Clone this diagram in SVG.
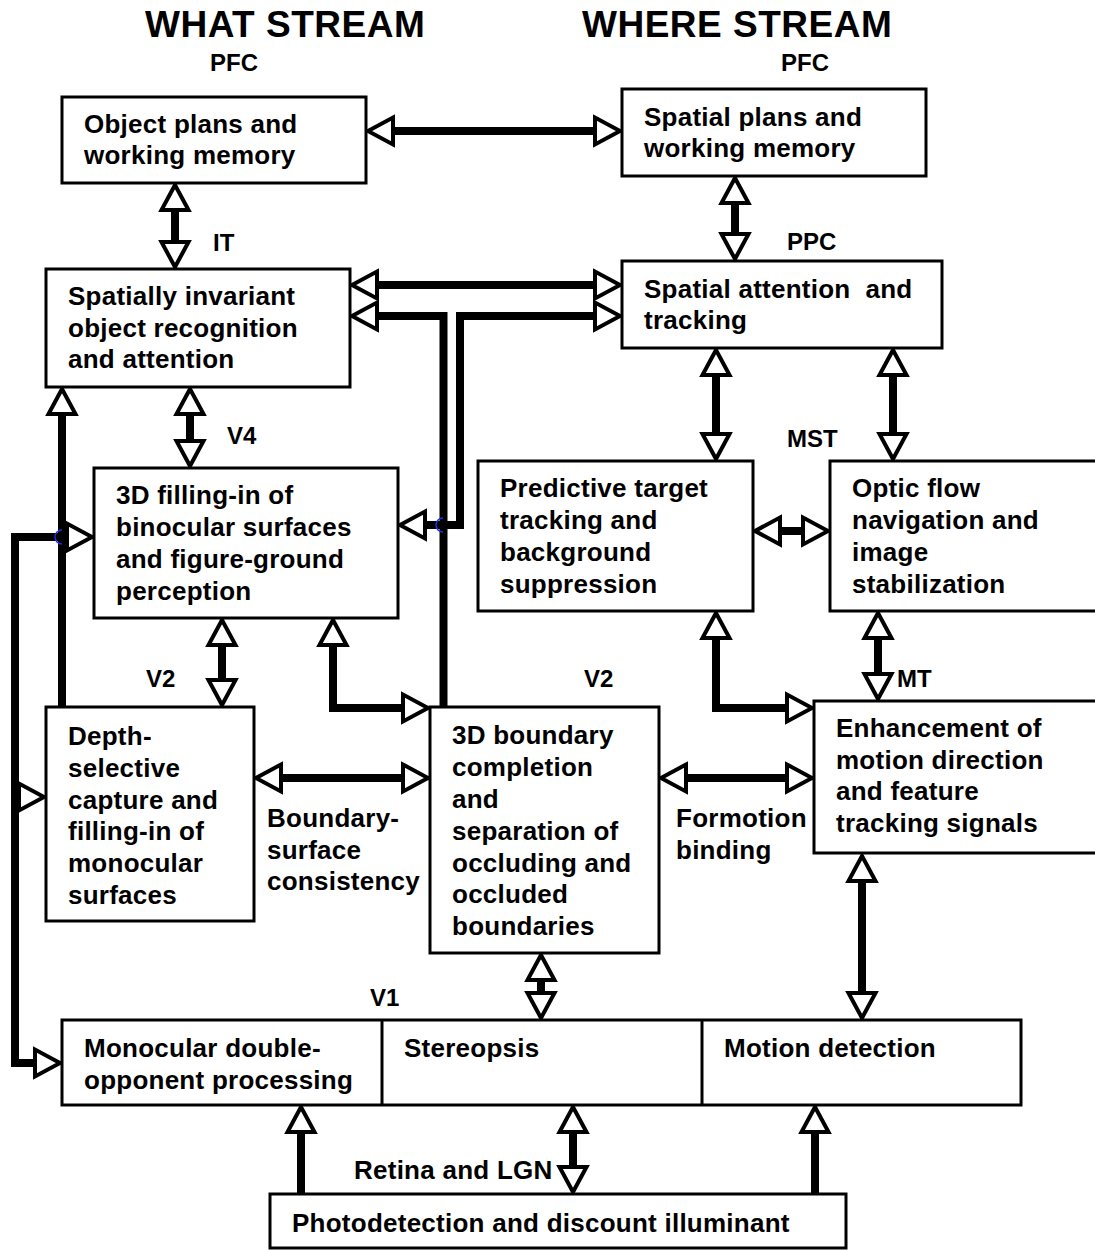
<svg xmlns="http://www.w3.org/2000/svg" xmlns:xlink="http://www.w3.org/1999/xlink" width="1095" height="1251" viewBox="0 0 1095 1251">
<style>
text{font-family:"Liberation Sans",Arial,sans-serif;font-weight:bold;fill:#000;white-space:pre}
.t{font-size:26px;letter-spacing:0.25px}
.h{font-size:37px;letter-spacing:0.5px}
.l{font-size:24px}
.box{fill:#fff;stroke:#000;stroke-width:3}
.c{fill:none;stroke:#000;stroke-width:8;stroke-linejoin:miter}
.hop{fill:none;stroke:#2030e0;stroke-width:1.5}
</style>
<defs>
<polygon id="ah" points="0,0 -25,-13.5 -25,13.5" fill="#fff" stroke="#000" stroke-width="4" stroke-linejoin="miter"/>
</defs>
<rect width="1095" height="1251" fill="#fff"/>

<g id="titles">
<text class="h" x="145" y="37">WHAT STREAM</text>
<text class="h" x="582" y="37">WHERE STREAM</text>
<text class="l" x="210" y="71">PFC</text>
<text class="l" x="781" y="71">PFC</text>
<text class="l" x="213" y="251">IT</text>
<text class="l" x="787" y="250">PPC</text>
<text class="l" x="227" y="444">V4</text>
<text class="l" x="787" y="447">MST</text>
<text class="l" x="146" y="687">V2</text>
<text class="l" x="584" y="687">V2</text>
<text class="l" x="897" y="687">MT</text>
<text class="l" x="370" y="1006">V1</text>
</g>

<g id="connectors">
<path class="c" d="M390,131 H598"/>
<use xlink:href="#ah" transform="translate(368,131) rotate(180)"/>
<use xlink:href="#ah" transform="translate(620,131)"/>
<path class="c" d="M175,207 V245"/>
<use xlink:href="#ah" transform="translate(175,185) rotate(-90)"/>
<use xlink:href="#ah" transform="translate(175,267) rotate(90)"/>
<path class="c" d="M735,200 V237"/>
<use xlink:href="#ah" transform="translate(735,178) rotate(-90)"/>
<use xlink:href="#ah" transform="translate(735,259) rotate(90)"/>
<path class="c" d="M374,285 H598"/>
<use xlink:href="#ah" transform="translate(352,285) rotate(180)"/>
<use xlink:href="#ah" transform="translate(620,285)"/>
<path class="c" d="M443.5,707 V316 H374"/>
<use xlink:href="#ah" transform="translate(352,316) rotate(180)"/>
<path class="c" d="M598,316 H460 V525 H422"/>
<use xlink:href="#ah" transform="translate(620,316)"/>
<use xlink:href="#ah" transform="translate(400,525) rotate(180)"/>
<path class="hop" d="M443,518 A7,7 0 0 0 443,532"/>
<path class="c" d="M190,411 V444"/>
<use xlink:href="#ah" transform="translate(190,389) rotate(-90)"/>
<use xlink:href="#ah" transform="translate(190,466) rotate(90)"/>
<path class="c" d="M716,372 V437"/>
<use xlink:href="#ah" transform="translate(716,350) rotate(-90)"/>
<use xlink:href="#ah" transform="translate(716,459) rotate(90)"/>
<path class="c" d="M893,372 V437"/>
<use xlink:href="#ah" transform="translate(893,350) rotate(-90)"/>
<use xlink:href="#ah" transform="translate(893,459) rotate(90)"/>
<path class="c" d="M777,531 H806"/>
<use xlink:href="#ah" transform="translate(755,531) rotate(180)"/>
<use xlink:href="#ah" transform="translate(828,531)"/>
<path class="c" d="M222,642 V683"/>
<use xlink:href="#ah" transform="translate(222,620) rotate(-90)"/>
<use xlink:href="#ah" transform="translate(222,705) rotate(90)"/>
<path class="c" d="M333,642 V708 H406"/>
<use xlink:href="#ah" transform="translate(333,620) rotate(-90)"/>
<use xlink:href="#ah" transform="translate(428,708)"/>
<path class="c" d="M716,635 V708 H790"/>
<use xlink:href="#ah" transform="translate(716,613) rotate(-90)"/>
<use xlink:href="#ah" transform="translate(812,708)"/>
<path class="c" d="M878,635 V677"/>
<use xlink:href="#ah" transform="translate(878,613) rotate(-90)"/>
<use xlink:href="#ah" transform="translate(878,699) rotate(90)"/>
<path class="c" d="M278,778 H406"/>
<use xlink:href="#ah" transform="translate(256,778) rotate(180)"/>
<use xlink:href="#ah" transform="translate(428,778)"/>
<path class="c" d="M683,778 H790"/>
<use xlink:href="#ah" transform="translate(661,778) rotate(180)"/>
<use xlink:href="#ah" transform="translate(812,778)"/>
<path class="c" d="M862,878 V996"/>
<use xlink:href="#ah" transform="translate(862,856) rotate(-90)"/>
<use xlink:href="#ah" transform="translate(862,1018) rotate(90)"/>
<path class="c" d="M541,977 V996"/>
<use xlink:href="#ah" transform="translate(541,955) rotate(-90)"/>
<use xlink:href="#ah" transform="translate(541,1018) rotate(90)"/>
<path class="c" d="M301,1194 V1129"/>
<use xlink:href="#ah" transform="translate(301,1107) rotate(-90)"/>
<path class="c" d="M573,1129 V1170"/>
<use xlink:href="#ah" transform="translate(573,1107) rotate(-90)"/>
<use xlink:href="#ah" transform="translate(573,1192) rotate(90)"/>
<path class="c" d="M815,1194 V1129"/>
<use xlink:href="#ah" transform="translate(815,1107) rotate(-90)"/>
<path class="c" d="M62,707 V411"/>
<use xlink:href="#ah" transform="translate(62,389) rotate(-90)"/>
<path class="c" d="M70,537 H15 V1063 H38"/>
<use xlink:href="#ah" transform="translate(92,537)"/>
<use xlink:href="#ah" transform="translate(60,1063)"/>
<use xlink:href="#ah" transform="translate(44,797)"/>
<path class="hop" d="M62,530 A7,7 0 0 0 62,544"/>
</g>

<g id="n-object-plans">
<rect class="box" x="62" y="97" width="304" height="86"/>
<text class="t" x="84" y="133">Object plans and</text>
<text class="t" x="84" y="164">working memory</text>
</g>
<g id="n-spatial-plans">
<rect class="box" x="622" y="89" width="304" height="87"/>
<text class="t" x="644" y="126">Spatial plans and</text>
<text class="t" x="644" y="157">working memory</text>
</g>
<g id="n-invariant">
<rect class="box" x="46" y="269" width="304" height="118"/>
<text class="t" x="68" y="305">Spatially invariant</text>
<text class="t" x="68" y="337">object recognition</text>
<text class="t" x="68" y="368">and attention</text>
</g>
<g id="n-attention">
<rect class="box" x="622" y="261" width="320" height="87"/>
<text class="t" x="644" y="298">Spatial attention  and</text>
<text class="t" x="644" y="329">tracking</text>
</g>
<g id="n-filling">
<rect class="box" x="94" y="468" width="304" height="150"/>
<text class="t" x="116" y="504">3D filling-in of</text>
<text class="t" x="116" y="536">binocular surfaces</text>
<text class="t" x="116" y="568">and figure-ground</text>
<text class="t" x="116" y="600">perception</text>
</g>
<g id="n-predictive">
<rect class="box" x="478" y="461" width="275" height="150"/>
<text class="t" x="500" y="497">Predictive target</text>
<text class="t" x="500" y="529">tracking and</text>
<text class="t" x="500" y="561">background</text>
<text class="t" x="500" y="593">suppression</text>
</g>
<g id="n-optic">
<rect class="box" x="830" y="461" width="275" height="150"/>
<text class="t" x="852" y="497">Optic flow</text>
<text class="t" x="852" y="529">navigation and</text>
<text class="t" x="852" y="561">image</text>
<text class="t" x="852" y="593">stabilization</text>
</g>
<g id="n-depth">
<rect class="box" x="46" y="707" width="208" height="214"/>
<text class="t" x="68" y="745">Depth-</text>
<text class="t" x="68" y="777">selective</text>
<text class="t" x="68" y="809">capture and</text>
<text class="t" x="68" y="840">filling-in of</text>
<text class="t" x="68" y="872">monocular</text>
<text class="t" x="68" y="904">surfaces</text>
</g>
<g id="n-boundary">
<rect class="box" x="430" y="707" width="229" height="246"/>
<text class="t" x="452" y="744">3D boundary</text>
<text class="t" x="452" y="776">completion</text>
<text class="t" x="452" y="808">and</text>
<text class="t" x="452" y="840">separation of</text>
<text class="t" x="452" y="872">occluding and</text>
<text class="t" x="452" y="903">occluded</text>
<text class="t" x="452" y="935">boundaries</text>
</g>
<g id="n-enhancement">
<rect class="box" x="814" y="701" width="290" height="152"/>
<text class="t" x="836" y="737">Enhancement of</text>
<text class="t" x="836" y="769">motion direction</text>
<text class="t" x="836" y="800">and feature</text>
<text class="t" x="836" y="832">tracking signals</text>
</g>
<g id="n-v1">
<rect class="box" x="62" y="1020" width="959" height="85"/>
<line x1="382" y1="1020" x2="382" y2="1105" stroke="#000" stroke-width="3"/>
<line x1="702" y1="1020" x2="702" y2="1105" stroke="#000" stroke-width="3"/>
<text class="t" x="84" y="1057">Monocular double-</text>
<text class="t" x="84" y="1089">opponent processing</text>
<text class="t" x="404" y="1057">Stereopsis</text>
<text class="t" x="724" y="1057">Motion detection</text>
</g>
<g id="n-photo">
<rect class="box" x="270" y="1194" width="576" height="54"/>
<text class="t" x="292" y="1232">Photodetection and discount illuminant</text>
</g>
<g id="labels">
<text class="t" x="267" y="827">Boundary-</text>
<text class="t" x="267" y="859">surface</text>
<text class="t" x="267" y="890">consistency</text>
<text class="t" x="676" y="827">Formotion</text>
<text class="t" x="676" y="859">binding</text>
<text class="t" x="354" y="1179">Retina and LGN</text>
</g>
</svg>
